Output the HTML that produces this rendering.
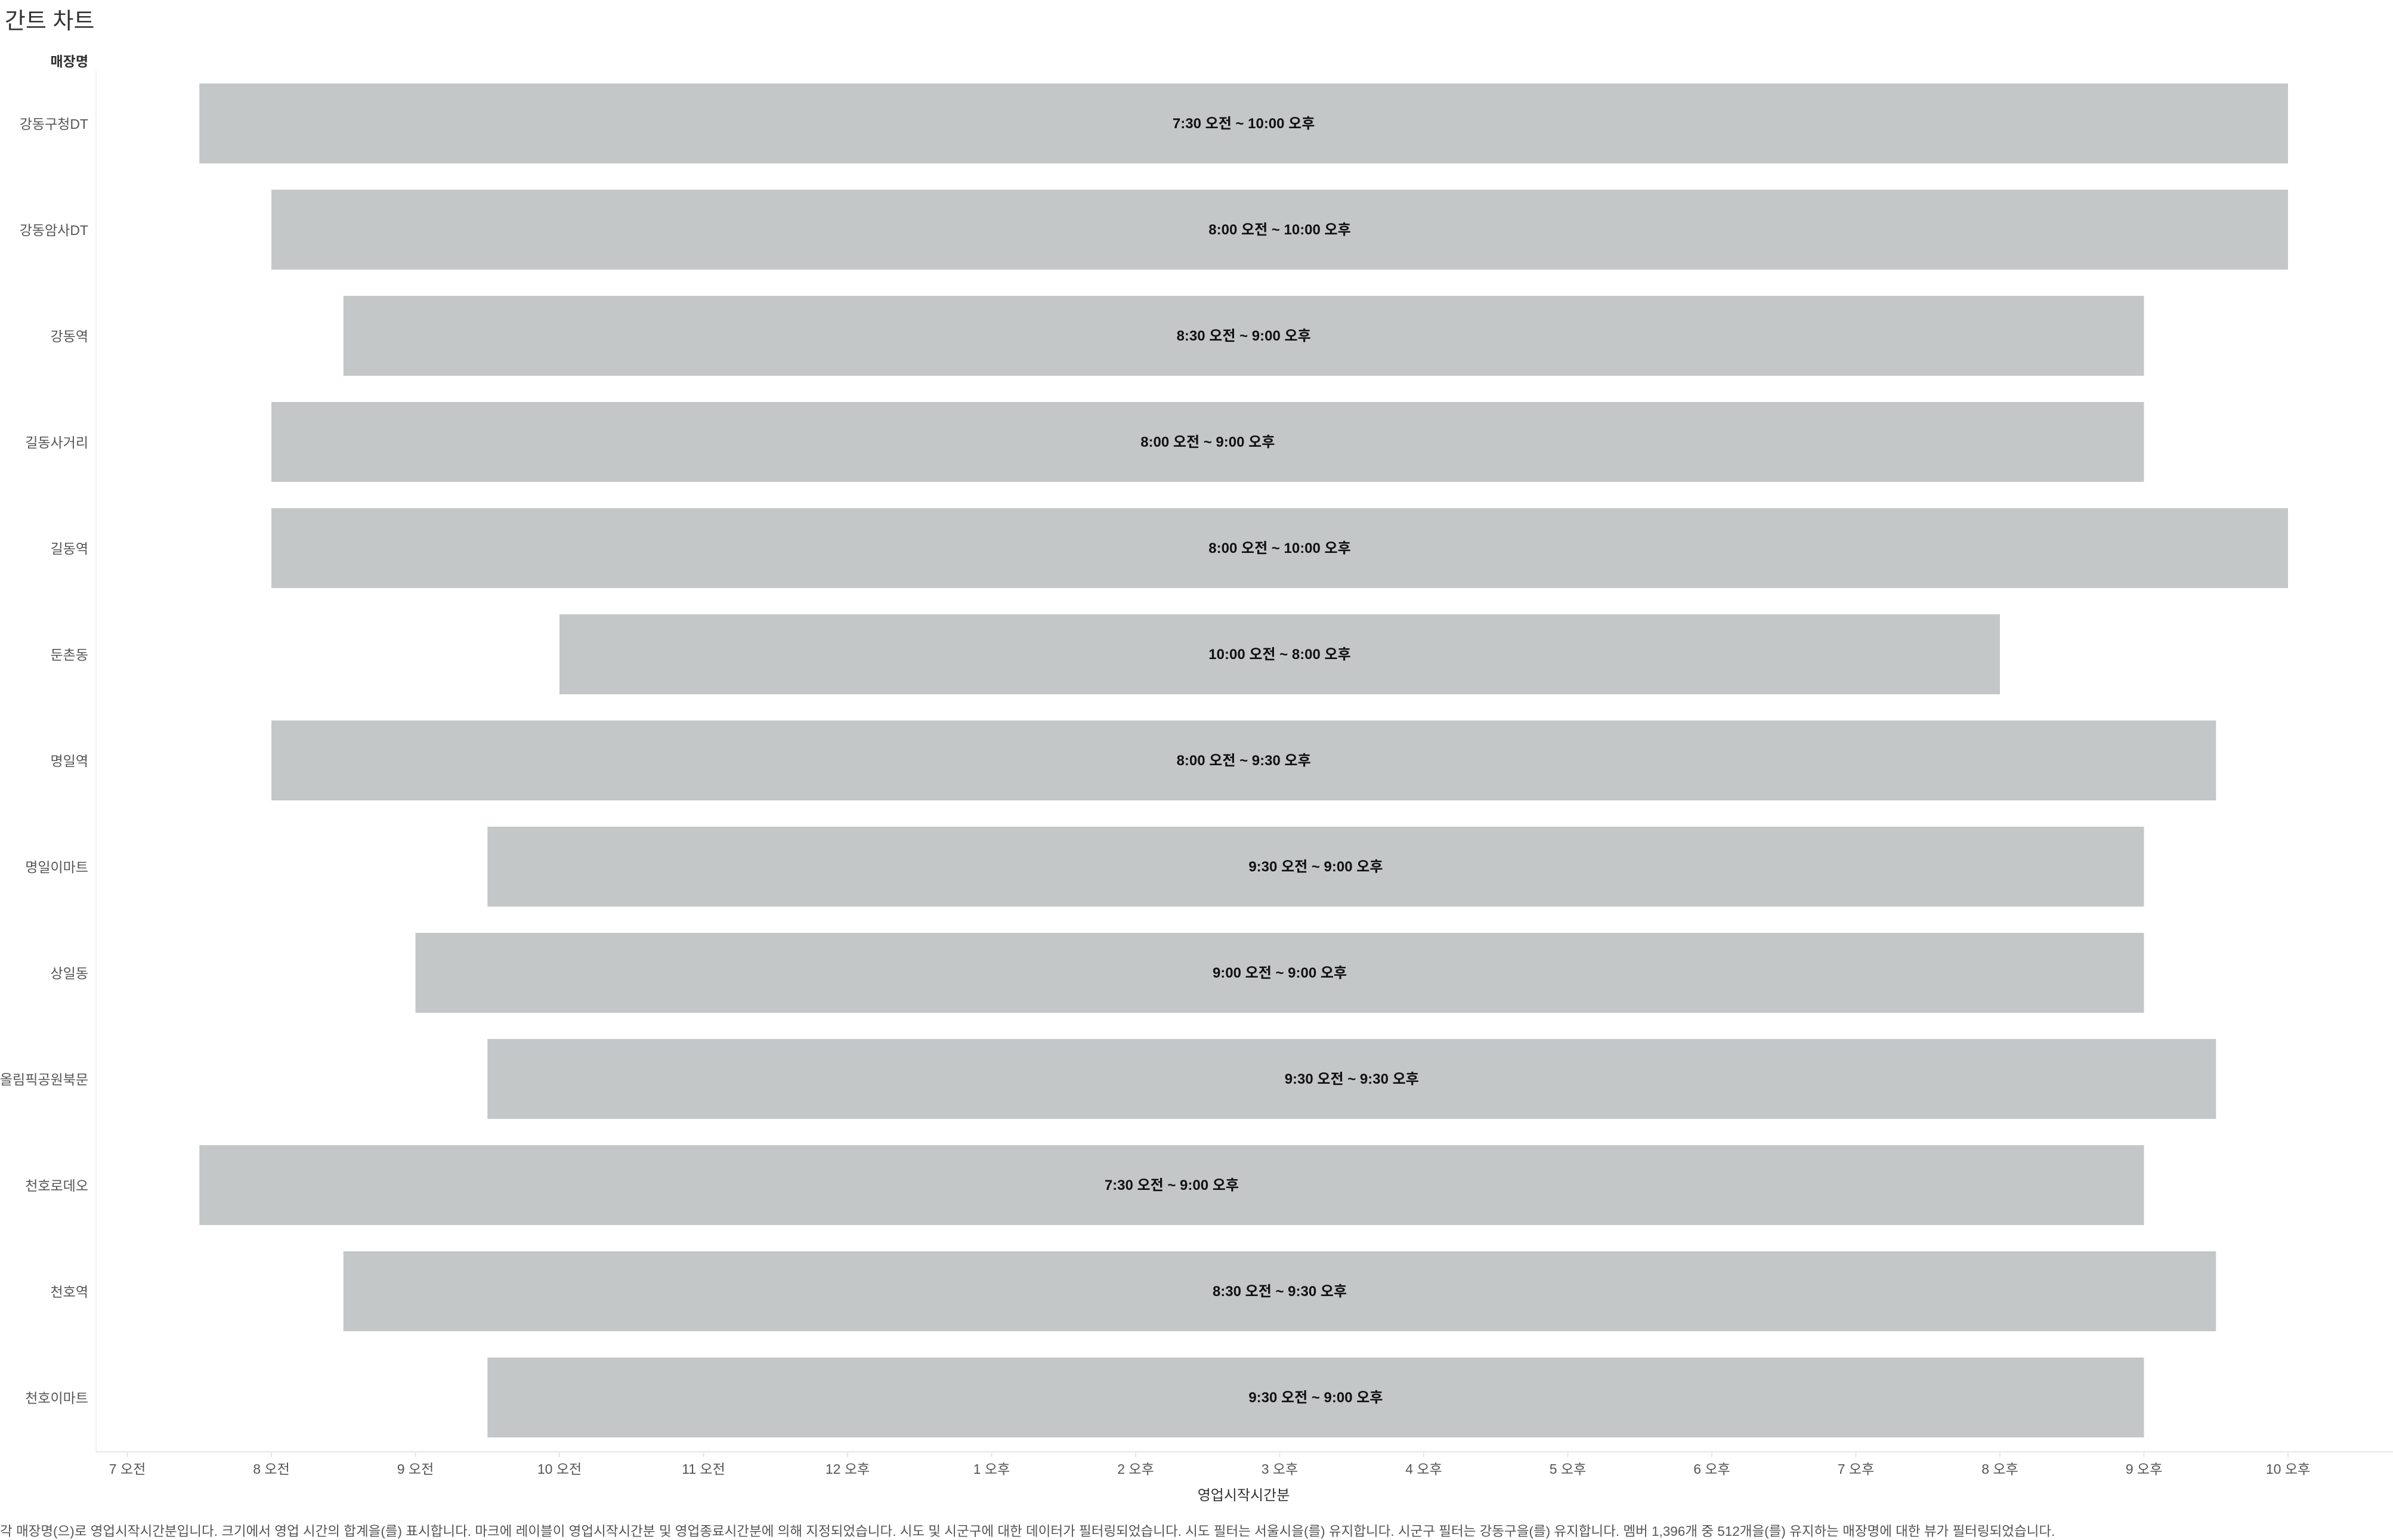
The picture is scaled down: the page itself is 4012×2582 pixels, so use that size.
<!DOCTYPE html>
<html><head><meta charset="utf-8"><style>
html,body{margin:0;padding:0;background:#fff;}
body{width:4012px;height:2582px;overflow:hidden;position:relative;font-family:"Liberation Sans","Noto Sans CJK KR",sans-serif;}
svg{position:absolute;left:0;top:0;}
</style></head><body>
<svg id="chart" width="4012" height="2582" xmlns="http://www.w3.org/2000/svg" font-family="Liberation Sans, Noto Sans CJK KR, sans-serif">
<text x="8" y="48" font-size="38" fill="#333">간트 차트</text>
<text x="148" y="111" font-size="23" font-weight="bold" fill="#333" text-anchor="end">매장명</text>
<line x1="161" y1="118" x2="161" y2="2434" stroke="#f2f2f2" stroke-width="2"/>
<line x1="161" y1="2434" x2="4012" y2="2434" stroke="#eeeeee" stroke-width="3"/>
<g id="bars"></g>
<g id="xaxis"></g>
<text x="2085" y="2515" font-size="24" fill="#333" text-anchor="middle">영업시작시간분</text>
<text x="0" y="2575" font-size="22.5" fill="#555">각 매장명(으)로 영업시작시간분입니다.  크기에서 영업 시간의 합계을(를) 표시합니다.  마크에 레이블이 영업시작시간분 및 영업종료시간분에 의해 지정되었습니다. 시도 및 시군구에 대한 데이터가 필터링되었습니다. 시도 필터는 서울시을(를) 유지합니다. 시군구 필터는 강동구을(를) 유지합니다. 멤버 1,396개 중 512개을(를) 유지하는 매장명에 대한 뷰가 필터링되었습니다.</text>
</svg>
<script>
const stores = ["강동구청DT","강동암사DT","강동역","길동사거리","길동역","둔촌동","명일역","명일이마트","상일동","올림픽공원북문","천호로데오","천호역","천호이마트"];
const startHours = [7.5,8,8.5,8,8,10,8,9.5,9,9.5,7.5,8.5,9.5];
const endHours = [22,22,21,21,22,20,21.5,21,21,21.5,21,21.5,21];
const tickHours = [7,8,9,10,11,12,13,14,15,16,17,18,19,20,21,22];
const tickLabels = ["7 오전","8 오전","9 오전","10 오전","11 오전","12 오후","1 오후","2 오후","3 오후","4 오후","5 오후","6 오후","7 오후","8 오후","9 오후","10 오후"];

const NS="http://www.w3.org/2000/svg";
const x = h => 213.5 + (h-7)*241.5;
const yc = i => 207 + i*178;
const BH = 134;
function fmt(h){const hr=Math.floor(h),m=Math.round((h-hr)*60);const ap=hr<12?"오전":"오후";let d=hr%12;if(d===0)d=12;return d+":"+(m<10?"0":"")+m+" "+ap;}
function mk(tag,attrs,parent){const e=document.createElementNS(NS,tag);for(const k in attrs)e.setAttribute(k,attrs[k]);parent.appendChild(e);return e;}
const bars=document.getElementById("bars");
stores.forEach((s,i)=>{
  const lab=mk("text",{x:148,y:yc(i)+9,"font-size":23,fill:"#555","text-anchor":"end"},bars);
  
  
  lab.textContent=s;
  const r=mk("rect",{x:x(startHours[i]),y:yc(i)-BH/2,width:x(endHours[i])-x(startHours[i]),height:BH,fill:"#c4c7c8"},bars);
  
  
  const t=mk("text",{x:(x(startHours[i])+x(endHours[i]))/2,y:yc(i)+8,"font-size":24,"font-weight":"bold",fill:"#111","text-anchor":"middle"},bars);
  
  
  t.textContent=fmt(startHours[i])+" ~ "+fmt(endHours[i]);
});
const xa=document.getElementById("xaxis");
tickHours.forEach((h,i)=>{
  const l=mk("line",{x1:x(h),y1:2435,x2:x(h),y2:2443,stroke:"#e6e6e6","stroke-width":2},xa);
  
  
  const t=mk("text",{x:x(h),y:2471,"font-size":23,fill:"#555","text-anchor":"middle"},xa);
  
  
  t.textContent=tickLabels[i];
});
</script>
</body></html>
